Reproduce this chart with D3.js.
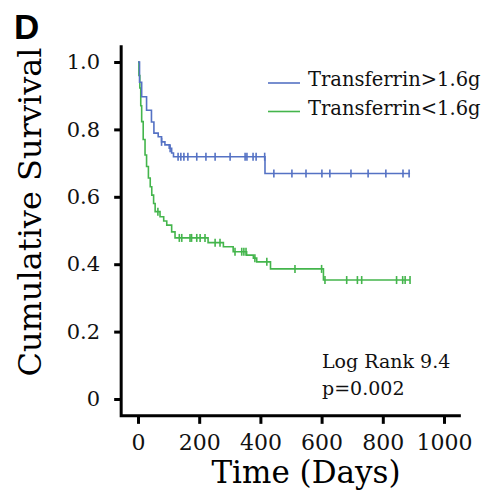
<!DOCTYPE html>
<html lang="en">
<head>
<meta charset="UTF-8" />
<title>Kaplan-Meier: Transferrin</title>
<style>
  html, body { margin:0; padding:0; background:#fff; }
  svg { display:block; }
  .tick text { font-family:"DejaVu Serif", serif; fill:#111; }
</style>
</head>
<body>
<svg id="chart" width="483" height="494"></svg>
<script src="https://d3js.org/d3.v7.min.js"></script>
<script>
// survival steps: [time (days), survival from that time on]
const highSteps = [
  [0, 1.0], [5, 0.94], [12, 0.897], [28, 0.857], [44, 0.822], [52, 0.789],
  [66, 0.778], [77, 0.763], [88, 0.754], [102, 0.744], [110, 0.73],
  [116, 0.719], [415, 0.669], [889, 0.669]
];
const highCensor = [77, 105, 131, 140, 150, 163, 192, 222, 252, 301, 350, 356, 376, 386, 414,
  444, 503, 549, 601, 627, 696, 752, 810, 866, 886];

const lowSteps = [
  [0, 1.0], [3, 0.96], [6, 0.923], [9, 0.87], [12, 0.823], [17, 0.77], [23, 0.724],
  [28, 0.69], [34, 0.656], [40, 0.63], [45, 0.605], [51, 0.58], [56, 0.556],
  [72, 0.541], [84, 0.528], [94, 0.516], [110, 0.496], [121, 0.478],
  [229, 0.464], [279, 0.452], [311, 0.437], [355, 0.427], [377, 0.418],
  [388, 0.407], [433, 0.386], [606, 0.353], [889, 0.353]
];
const lowCensor = [65, 135, 143, 170, 175, 192, 203, 219, 252, 268, 317, 339, 346, 353, 382,
  421, 513, 600, 611, 682, 717, 731, 845, 865, 873, 889];

const xTicks = [0, 200, 400, 600, 800, 1000];
const yTicks = [0, 0.2, 0.4, 0.6, 0.8, 1.0];
const yTickLabels = ["0", "0.2", "0.4", "0.6", "0.8", "1.0"];
const seriesNames = ["Transferrin>1.6g", "Transferrin<1.6g"];
const seriesColors = ["#5572c4", "#44b54c"];

const svg = d3.select("#chart");
const x = d3.scaleLinear().domain([0, 1000]).range([138, 444]);
const y = d3.scaleLinear().domain([0, 1]).range([399, 62]);

// panel letter
svg.append("text")
  .attr("x", 14).attr("y", 39)
  .attr("font-family", "Liberation Sans, Arial, sans-serif")
  .attr("font-weight", "bold").attr("font-size", 35)
  .text("D");

// axes
const xAxis = svg.append("g")
  .attr("transform", `translate(0,${y(-0.05)})`)
  .call(d3.axisBottom(x).tickValues(xTicks).tickSize(8).tickPadding(11).tickFormat(d3.format("d")));
xAxis.select(".domain").remove();
xAxis.selectAll(".tick line").attr("stroke", "#000").attr("stroke-width", 3);
xAxis.selectAll(".tick text").attr("font-size", 22);

const yAxis = svg.append("g")
  .attr("transform", `translate(${x(-55)},0)`)
  .call(d3.axisLeft(y).tickValues(yTicks).tickSize(7).tickPadding(14)
    .tickFormat((d, i) => yTickLabels[i]));
yAxis.select(".domain").remove();
yAxis.selectAll(".tick line").attr("stroke", "#000").attr("stroke-width", 3);
yAxis.selectAll(".tick text").attr("font-size", 21);

svg.append("path")
  .attr("d", `M${x(-55)},${y(1.05)}V${y(-0.05)}H${x(1055)}`)
  .attr("fill", "none").attr("stroke", "#000").attr("stroke-width", 3);

// axis titles
svg.append("text")
  .attr("x", 306).attr("y", 483)
  .attr("text-anchor", "middle")
  .attr("font-family", "DejaVu Serif, serif").attr("font-size", 31)
  .text("Time (Days)");

svg.append("text")
  .attr("transform", "translate(41,212) rotate(-90)")
  .attr("text-anchor", "middle")
  .attr("font-family", "DejaVu Serif, serif").attr("font-size", 32)
  .text("Cumulative Survival");

// curves
const line = d3.line().x(d => x(d[0])).y(d => y(d[1])).curve(d3.curveStepAfter);
const survAt = (steps, t) => {
  let s = steps[0][1];
  for (const st of steps) if (st[0] <= t) s = st[1];
  return s;
};

[[lowSteps, lowCensor, seriesColors[1]], [highSteps, highCensor, seriesColors[0]]].forEach(([steps, cens, col]) => {
  svg.append("path").datum(steps)
    .attr("d", line).attr("fill", "none")
    .attr("stroke", col).attr("stroke-width", 1.6);
  svg.append("g").selectAll("line").data(cens).join("line")
    .attr("x1", d => x(d)).attr("x2", d => x(d))
    .attr("y1", d => y(survAt(steps, d)) - 4)
    .attr("y2", d => y(survAt(steps, d)) + 4)
    .attr("stroke", col).attr("stroke-width", 1.6);
});

// legend
const legend = svg.append("g");
seriesNames.forEach((name, i) => {
  const ly = 83 + i * 28.5;
  legend.append("line")
    .attr("x1", 268).attr("x2", 300).attr("y1", ly).attr("y2", ly)
    .attr("stroke", seriesColors[i]).attr("stroke-width", 1.6);
  legend.append("text")
    .attr("x", 308).attr("y", ly + 3)
    .attr("font-family", "DejaVu Serif, serif").attr("font-size", 19.5)
    .attr("fill", "#111")
    .text(name);
});

// log rank annotation
const notes = ["Log Rank 9.4", "p=0.002"];
notes.forEach((t, i) => {
  svg.append("text")
    .attr("x", 322).attr("y", 368 + i * 27)
    .attr("font-family", "DejaVu Serif, serif").attr("font-size", 19)
    .attr("fill", "#111")
    .text(t);
});
</script>
</body>
</html>
